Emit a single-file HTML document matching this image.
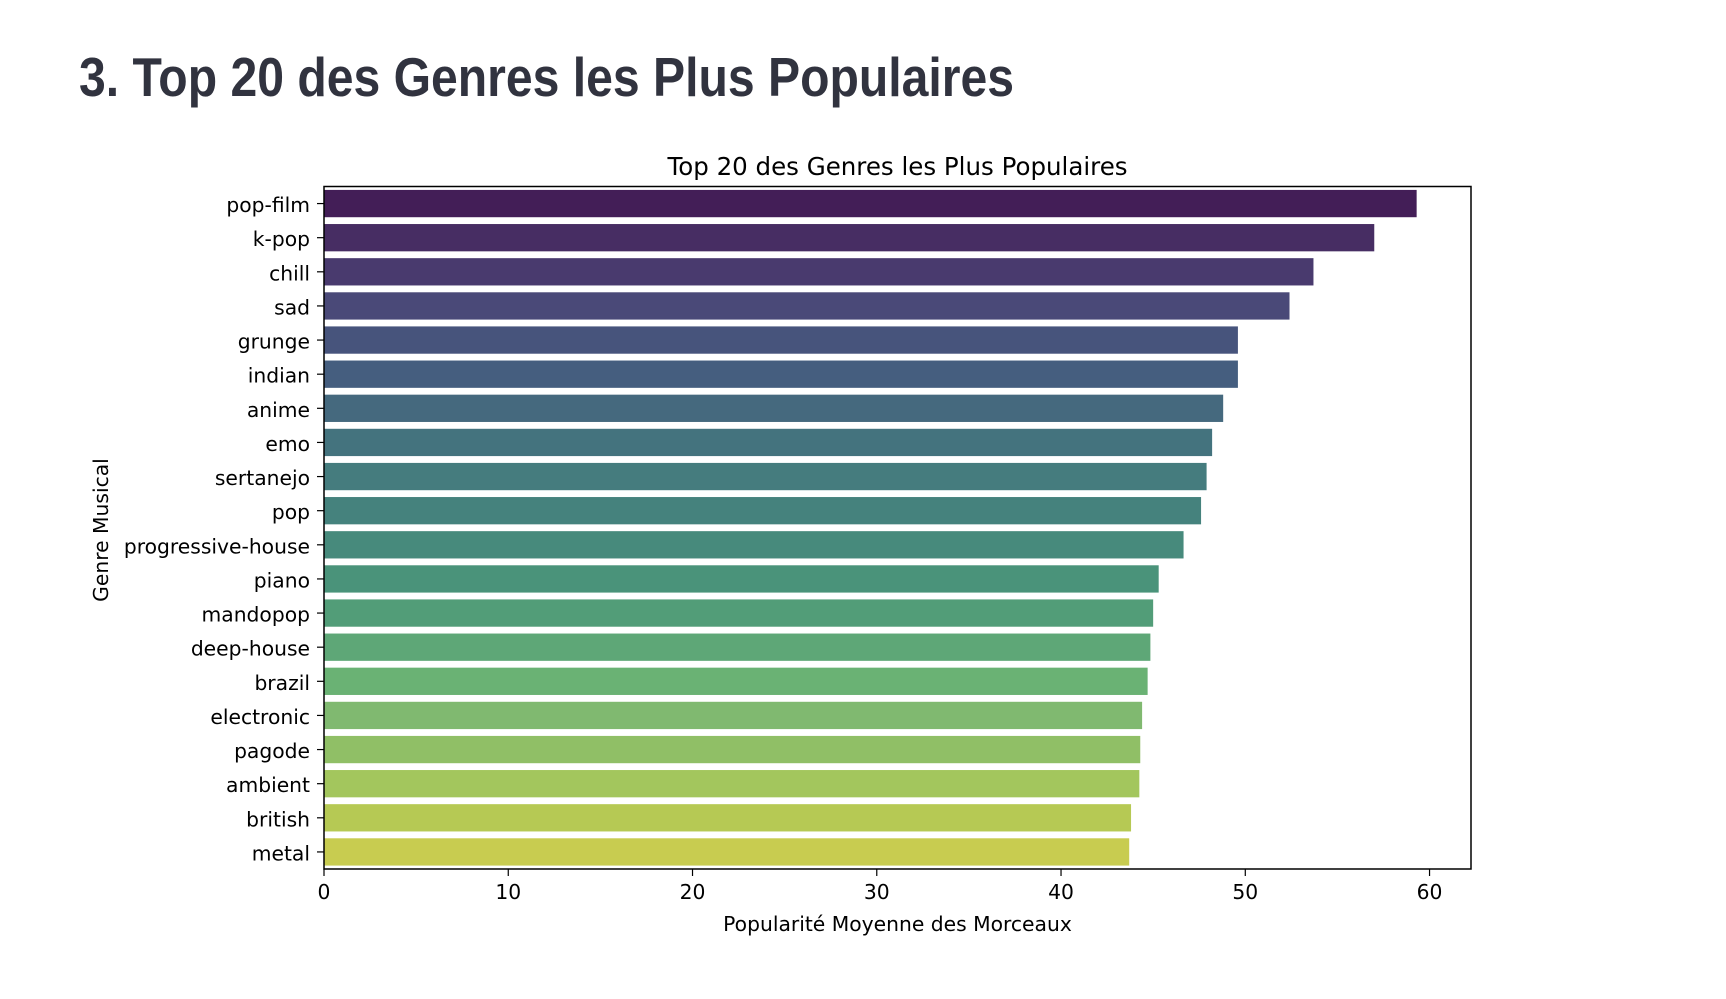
<!DOCTYPE html>
<html><head><meta charset="utf-8"><style>
html,body{margin:0;padding:0;background:#fff;width:1726px;height:999px;overflow:hidden}
svg{display:block}
</style></head><body>
<svg id="chart" width="1726" height="999">
<text x="79" y="96" font-family="Liberation Sans, sans-serif" font-weight="bold" font-size="55" fill="#31333f" textLength="935" lengthAdjust="spacingAndGlyphs">3. Top 20 des Genres les Plus Populaires</text>
<g id="plot"></g>
</svg>
<script>
const categories = ["pop-film","k-pop","chill","sad","grunge","indian","anime","emo","sertanejo","pop","progressive-house","piano","mandopop","deep-house","brazil","electronic","pagode","ambient","british","metal"];
const values = [59.3,57.0,53.7,52.4,49.6,49.6,48.8,48.2,47.9,47.6,46.65,45.3,45.0,44.85,44.7,44.4,44.3,44.25,43.8,43.7];
const xTicks = [0,10,20,30,40,50,60];
const colors = ["#431e57","#472d63","#493a6e","#4a4978","#47547c","#455e7f","#45697e","#44737e","#457c7e","#45827d","#478a7c","#4a937a","#529d78","#5ea777","#6ab274","#80b970","#90bf66","#a3c65d","#b6c954","#c8cc50"];
const NS="http://www.w3.org/2000/svg";
const g=document.getElementById('plot');
const L=324,R=1471,T=186.5,B=869,xMax=62.25;
const x=v=>L+v/xMax*(R-L);
const band=(B-T)/categories.length;
const y=i=>T+band*(i+0.5);
function el(t,a,txt){const e=document.createElementNS(NS,t);for(const k in a)e.setAttribute(k,a[k]);if(txt!=null)e.textContent=txt;g.appendChild(e);return e;}
const F="DejaVu Sans, Liberation Sans, sans-serif";
categories.forEach((c,i)=>{
  const r=el('rect',{x:x(0),y:y(i)-band*0.4,width:x(values[i])-x(0),height:band*0.8,fill:colors[i]});
  
  
  const tk=el('line',{x1:L-7,x2:L,y1:y(i),y2:y(i),stroke:'#000','stroke-width':1.2});
  
  
  const t=el('text',{x:L-14,y:y(i)+8.5,'text-anchor':'end','font-family':F,'font-size':20.3,fill:'#000'},c);
  
  
});
xTicks.forEach(v=>{
  const tk=el('line',{x1:x(v),x2:x(v),y1:B,y2:B+7,stroke:'#000','stroke-width':1.2});
  
  
  const t=el('text',{x:x(v),y:B+30,'text-anchor':'middle','font-family':F,'font-size':20.3,fill:'#000'},String(v));
  
  
});
const fr=el('rect',{x:L,y:T,width:R-L,height:B-T,fill:'none',stroke:'#000','stroke-width':1.5});


const ti=el('text',{x:(L+R)/2,y:175,'text-anchor':'middle','font-family':F,'font-size':24.5,fill:'#000'},'Top 20 des Genres les Plus Populaires');


const xl=el('text',{x:(L+R)/2,y:931,'text-anchor':'middle','font-family':F,'font-size':20.3,fill:'#000'},'Popularité Moyenne des Morceaux');


const yl=el('text',{x:0,y:0,'text-anchor':'middle','font-family':F,'font-size':20.3,fill:'#000',transform:'translate(108,530) rotate(-90)'},'Genre Musical');


</script>
</body></html>
